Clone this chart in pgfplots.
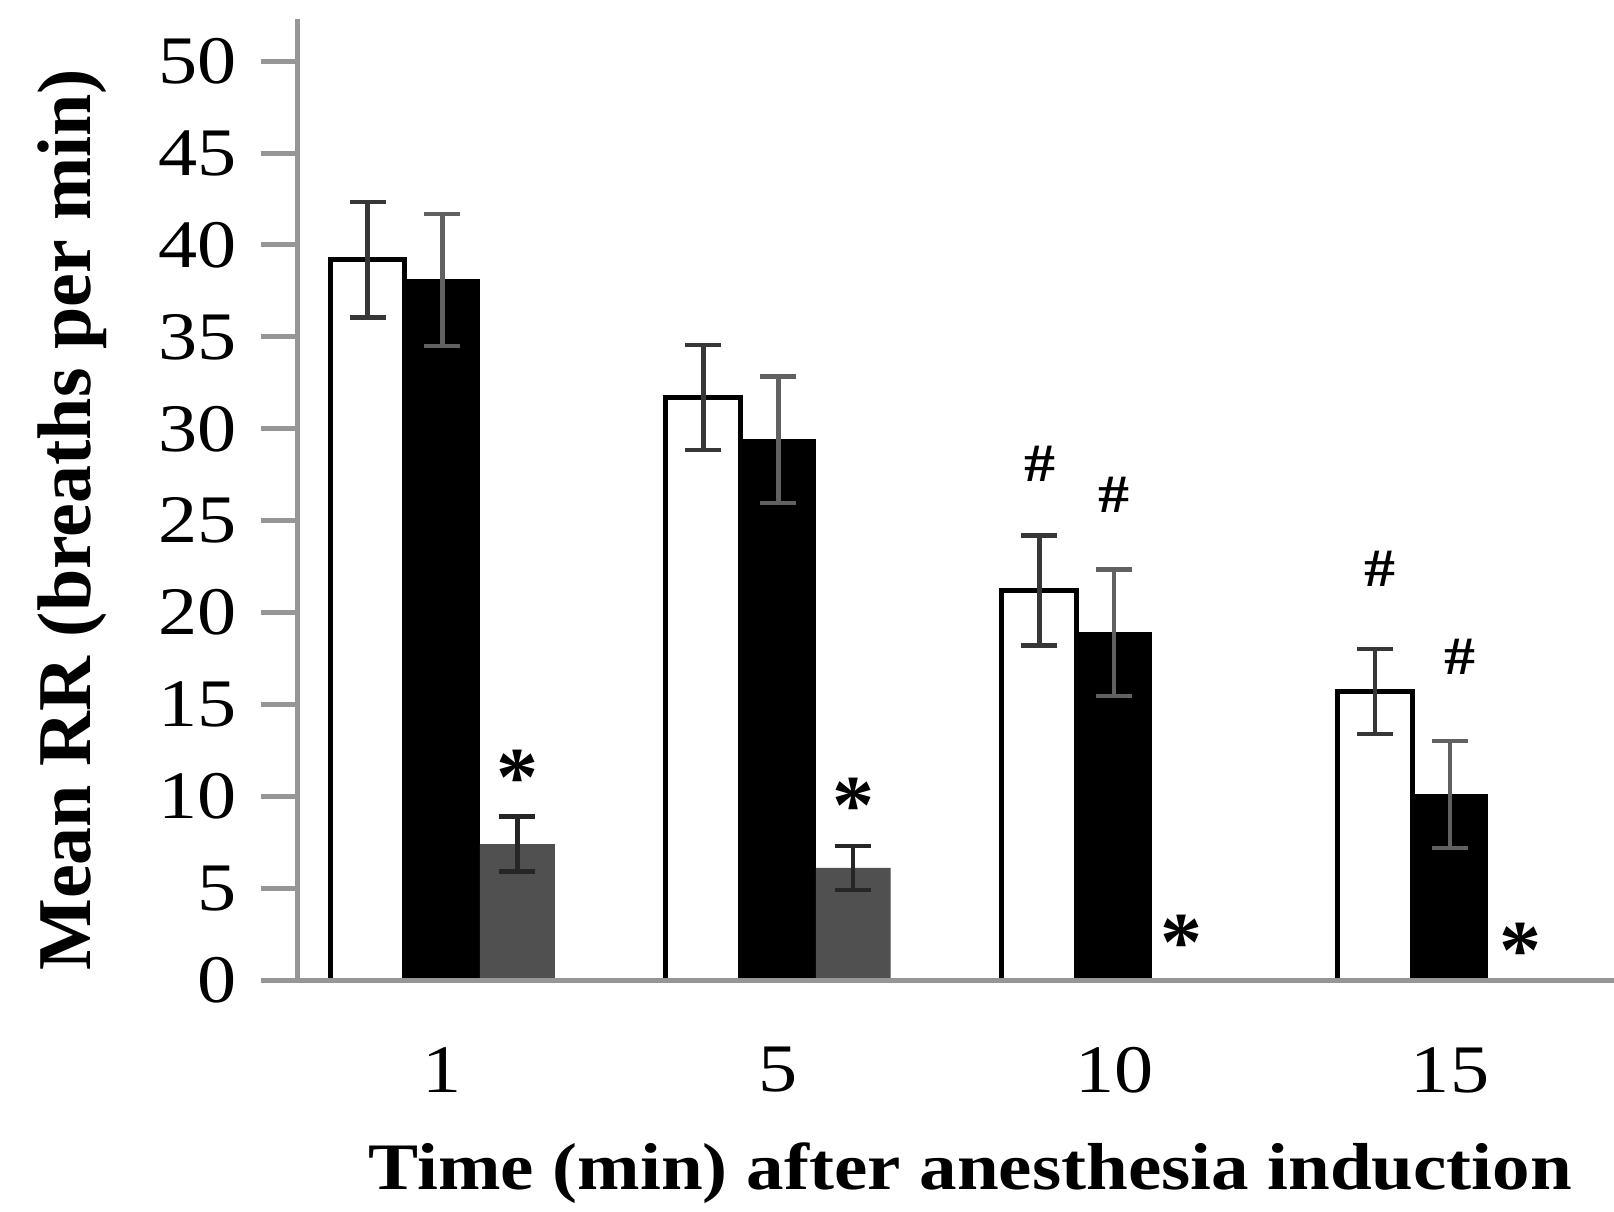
\documentclass[border=0pt]{standalone}
\usepackage{fontspec}
\setmainfont{Liberation Serif}
\newfontfamily\tickfont{Liberation Serif}[FakeStretch=1.15]
\newfontfamily\xlabfont{Liberation Serif}[FakeStretch=1.13]
\usepackage{pgfplots}
\pgfplotsset{compat=1.18}
\usepackage{pgfplotstable}
\definecolor{axgray}{RGB}{150,150,150}
\definecolor{bargray}{RGB}{80,80,80}
\definecolor{errc}{RGB}{55,55,55}

\pgfplotstableread{
x y e
0 39.2 3.15
1 31.7 2.85
2 21.2 3.0
3 15.7 2.3
}\white
\pgfplotstableread{
x y e
0 38.1 3.6
1 29.4 3.45
2 18.9 3.45
3 10.1 2.9
}\black
\pgfplotstableread{
x y e
0 7.4 1.5
1 6.1 1.2
}\grey

\tikzset{
  tl/.style={font=\fontsize{17}{17}\selectfont\tickfont, anchor=center},
  st/.style={font=\fontsize{21}{21}\selectfont\bfseries, anchor=center, inner sep=0pt},
  hs/.style={font=\fontsize{13.5}{13.5}\selectfont\tickfont\bfseries, anchor=center, inner sep=0pt},
}

\begin{document}
\begin{tikzpicture}
\begin{axis}[
  scale only axis,
  width=329pt, height=240.25pt,
  xmin=-0.43, xmax=3.488,
  ymin=0, ymax=52.3,
  axis x line=none,
  axis y line*=left,
  y axis line style={axgray, line width=1.25pt, -},
  ytick={0,5,...,50},
  xtick={0,1,2,3},
  xticklabels={1,5,10,15},
  tick align=outside,
  major tick length=9.25pt,
  ytick style={axgray, line width=1.25pt},
  /pgf/number format/assume math mode=true,
  yticklabel style={font=\fontsize{17}{17}\selectfont\tickfont, xshift=-2.6pt},
  ybar, bar width=0.223,
  every axis y label/.style={at={(rel axis cs:0,0.479)}, xshift=-56.5pt, rotate=90, anchor=center},
  ylabel={\fontsize{19}{20}\selectfont\bfseries Mean RR (breaths per min)},
  clip=false,
]
\addplot[fill=white, draw=black, line width=1.25pt, bar shift=-0.223,
  error bars/.cd, y dir=both, y explicit,
  error bar style={errc, line width=1.1pt},
  error mark options={rotate=90, mark size=4.5pt, line width=1.1pt, errc}]
  table[x=x, y=y, y error=e]{\white};
\addplot[fill=black, draw=black, line width=0pt, bar shift=0,
  error bars/.cd, y dir=both, y explicit,
  error bar style={black!62, line width=1.1pt},
  error mark options={rotate=90, mark size=4.5pt, line width=1.1pt, black!62}]
  table[x=x, y=y, y error=e]{\black};
\addplot[fill=bargray, draw=none, bar shift=0.223,
  error bars/.cd, y dir=both, y explicit,
  error bar style={black!85, line width=1.1pt},
  error mark options={rotate=90, mark size=4.5pt, line width=1.1pt, black!85}]
  table[x=x, y=y, y error=e]{\grey};

% x axis line and tick labels
\draw[axgray, line width=1.25pt] ([xshift=-9.25pt]rel axis cs:0,0) -- (rel axis cs:1,0);
\node[tl] at ([yshift=-22.5pt]axis cs:0,0) {1};
\node[tl] at ([yshift=-22.5pt]axis cs:1,0) {5};
\node[tl] at ([yshift=-22.5pt]axis cs:2,0) {10};
\node[tl] at ([yshift=-22.5pt]axis cs:3,0) {15};
% significance marks
\node[st] at (axis cs:0.223,11.0) {*};
\node[st] at (axis cs:1.223,9.5) {*};
\node[st] at (axis cs:2.20,2.0) {*};
\node[st] at (axis cs:3.21,1.6) {*};
\node[hs] at (axis cs:1.78,28.1) {\#};
\node[hs] at (axis cs:2.0,26.4) {\#};
\node[hs] at (axis cs:2.79,22.4) {\#};
\node[hs] at (axis cs:3.03,17.6) {\#};
\node[font=\fontsize{16.6}{17}\selectfont\xlabfont\bfseries, anchor=center] at ([yshift=-48.25pt]rel axis cs:0.511,0) {Time (min) after anesthesia induction};
\end{axis}
\pgfresetboundingbox
\path[use as bounding box] (-74.5pt,-57.75pt) rectangle (329pt,245pt);
\end{tikzpicture}
\end{document}
